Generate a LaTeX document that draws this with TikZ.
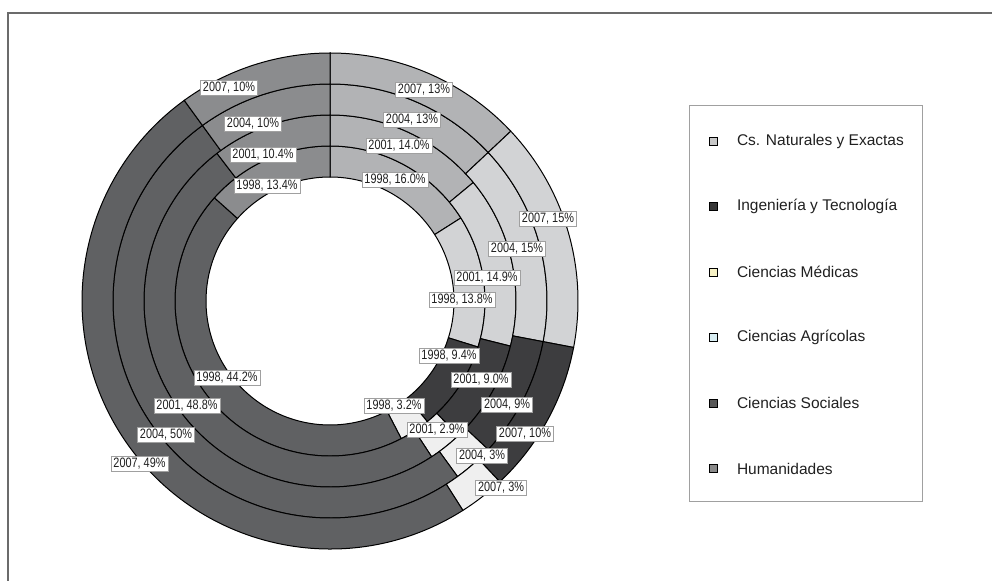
\documentclass[tikz,border=0pt]{standalone}
\usepackage{fontspec}
\usepackage{xcolor}
\usepackage{tikz}
\usetikzlibrary{matrix}
\newfontfamily\lblfont[FakeStretch=0.8]{Liberation Sans}
\newfontfamily\legfont{Liberation Sans}
\definecolor{nat}{HTML}{B2B3B5}
\definecolor{med}{HTML}{D2D3D5}
\definecolor{ing}{HTML}{3D3D3F}
\definecolor{agr}{HTML}{EFEFEF}
\definecolor{soc}{HTML}{606163}
\definecolor{hum}{HTML}{8B8C8E}
\definecolor{natkey}{HTML}{C8C8C8}
\definecolor{ingkey}{HTML}{363636}
\definecolor{medkey}{HTML}{F6F1C4}
\definecolor{agrkey}{HTML}{D9EEF3}
\definecolor{sockey}{HTML}{585858}
\definecolor{humkey}{HTML}{8A8A8A}
\definecolor{framegray}{HTML}{6B6B6B}
\definecolor{boxgray}{HTML}{A0A0A0}
\definecolor{lblgray}{HTML}{A0A0A0}
\definecolor{inktext}{HTML}{202020}

\begin{document}
\begin{tikzpicture}[x=1pt, y=1pt,
	lbl/.style={draw=lblgray, line width=0.8pt, fill=white, text=inktext, inner xsep=2.5pt, inner ysep=0pt, minimum height=15pt, font=\lblfont\fontsize{13.6}{15}\selectfont},
	keybox/.style={draw=black, line width=0.8pt, minimum size=8pt, inner sep=0pt, anchor=center},
	legtext/.style={text=inktext, inner sep=0pt, minimum height=65.5pt, anchor=west, font=\legfont\fontsize{15.5}{18}\selectfont}]
	\useasboundingbox (0,0) rectangle (992,581);
	\draw[framegray, line width=1.6pt] (992,568) -- (8,568) -- (8,0);
	\begin{scope}[shift={(330,280)}]
		\foreach \rin/\slices in {124/{16.0/nat,13.8/med,9.4/ing,3.2/agr,44.2/soc,13.4/hum},
			155/{14.0/nat,14.9/med,9.0/ing,2.9/agr,48.8/soc,10.4/hum},
			186/{13/nat,15/med,9/ing,3/agr,50/soc,10/hum},
			217/{13/nat,15/med,10/ing,3/agr,49/soc,10/hum}}{
			\gdef\angA{90}
			\foreach \pct/\col in \slices {
				\pgfmathsetmacro\angB{\angA-3.6*\pct}
				\filldraw[fill=\col, draw=black, line width=1pt] (\angA:\rin+31) arc[start angle=\angA, end angle=\angB, radius=\rin+31] -- (\angB:\rin) arc[start angle=\angB, end angle=\angA, radius=\rin] -- cycle;
				\global\let\angA\angB
			}
		}
	\end{scope}
	\node[lbl] (hum07) at (229,493.5) {2007, 10\%};
	\node[lbl] (hum04) at (253,457.5) {2004, 10\%};
	\node[lbl] (hum01) at (263,426) {2001, 10.4\%};
	\node[lbl] (hum98) at (267,395.5) {1998, 13.4\%};
	\node[lbl] (nat07) at (424,491) {2007, 13\%};
	\node[lbl] (nat04) at (412,461) {2004, 13\%};
	\node[lbl] (nat01) at (399,435) {2001, 14.0\%};
	\node[lbl] (nat98) at (395,401) {1998, 16.0\%};
	\node[lbl] (med07) at (548,362) {2007, 15\%};
	\node[lbl] (med04) at (517,332.5) {2004, 15\%};
	\node[lbl] (med01) at (487,303.3) {2001, 14.9\%};
	\node[lbl] (med98) at (462,281) {1998, 13.8\%};
	\node[lbl] (ing98) at (449,225.5) {1998, 9.4\%};
	\node[lbl] (ing01) at (481,201) {2001, 9.0\%};
	\node[lbl] (ing04) at (507,176) {2004, 9\%};
	\node[lbl] (ing07) at (525,147) {2007, 10\%};
	\node[lbl] (agr98) at (394,175) {1998, 3.2\%};
	\node[lbl] (agr01) at (437,151) {2001, 2.9\%};
	\node[lbl] (agr04) at (482,125) {2004, 3\%};
	\node[lbl] (agr07) at (501,93.5) {2007, 3\%};
	\node[lbl] (soc98) at (227,203) {1998, 44.2\%};
	\node[lbl] (soc01) at (187,175) {2001, 48.8\%};
	\node[lbl] (soc04) at (166,146) {2004, 50\%};
	\node[lbl] (soc07) at (139.5,117.5) {2007, 49\%};
	\draw[boxgray, line width=0.8pt] (689,80) rectangle (922,476);
	\matrix (leg) [matrix of nodes, nodes in empty cells, anchor=west, inner sep=0pt, column sep=19pt, row sep=0pt,
		column 1/.style={nodes={keybox}}, column 2/.style={nodes={legtext}}] at (709,276) {
		|[fill=natkey]| & Cs. Naturales y Exactas \\
		|[fill=ingkey]| & Ingeniería y Tecnología \\
		|[fill=medkey]| & Ciencias Médicas \\
		|[fill=agrkey]| & Ciencias Agrícolas \\
		|[fill=sockey]| & Ciencias Sociales \\
		|[fill=humkey]| & Humanidades \\
	};
\end{tikzpicture}
\end{document}
